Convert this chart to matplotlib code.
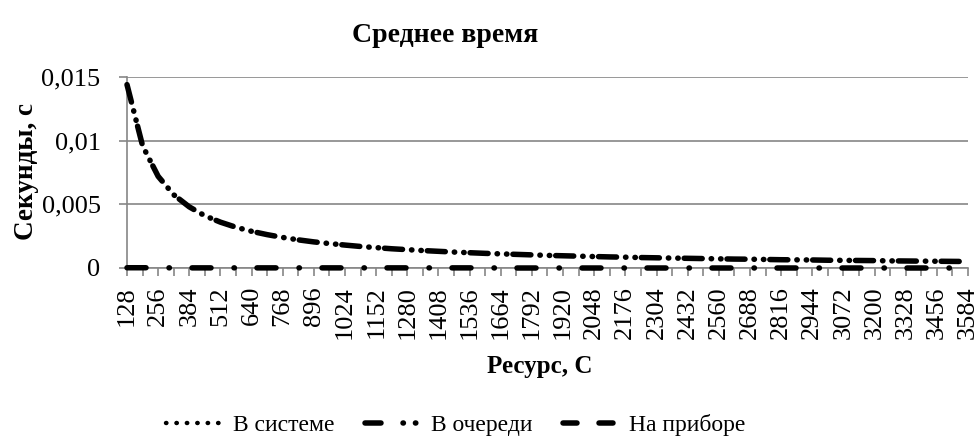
import numpy as np
import matplotlib
matplotlib.use("Agg")
import matplotlib.pyplot as plt
from matplotlib.lines import Line2D

plt.rcParams['font.family'] = ['Liberation Serif', 'DejaVu Serif']
plt.rcParams['lines.scale_dashes'] = False

# categories: resource C, step 64 (labels shown every 128)
resource = np.arange(128, 3585, 64)

# average time in queue, seconds
t_queue = [0.0144, 0.0096, 0.0072, 0.00575, 0.0048, 0.0041, 0.0036, 0.0032,
           0.00288, 0.00262, 0.0024, 0.00221, 0.00205, 0.00192, 0.0018, 0.00169,
           0.0016, 0.00151, 0.00144, 0.00137, 0.00131, 0.00125, 0.0012, 0.00115,
           0.00111, 0.00107, 0.00103, 0.00099, 0.00096, 0.00093, 0.0009, 0.00087,
           0.00085, 0.00082, 0.0008, 0.00078, 0.00076, 0.00074, 0.00072, 0.0007,
           0.00069, 0.00067, 0.00065, 0.00064, 0.00063, 0.00061, 0.0006, 0.00059,
           0.00058, 0.00056, 0.00055, 0.00054, 0.00053, 0.00052, 0.00051]

# time in system and on device (practically zero on this scale)
t_system = [0.00002, 0.00002, 0.00002, 0.00001, 0.00001, 0.00001, 0.00001, 0.00001,
            0.00001, 0.00001, 0.00001, 0.00001, 0.00001, 0.00001, 0.00001, 0.00001,
            0.00001, 0.00001, 0.00001, 0.00001, 0.00001, 0.00001, 0.00001, 0.00001,
            0.0, 0.0, 0.0, 0.0, 0.0, 0.0, 0.0, 0.0,
            0.0, 0.0, 0.0, 0.0, 0.0, 0.0, 0.0, 0.0,
            0.0, 0.0, 0.0, 0.0, 0.0, 0.0, 0.0, 0.0,
            0.0, 0.0, 0.0, 0.0, 0.0, 0.0, 0.0]
t_device = [0.00002, 0.00002, 0.00002, 0.00001, 0.00001, 0.00001, 0.00001, 0.00001,
            0.00001, 0.00001, 0.00001, 0.00001, 0.00001, 0.00001, 0.00001, 0.00001,
            0.00001, 0.00001, 0.00001, 0.00001, 0.00001, 0.00001, 0.00001, 0.00001,
            0.0, 0.0, 0.0, 0.0, 0.0, 0.0, 0.0, 0.0,
            0.0, 0.0, 0.0, 0.0, 0.0, 0.0, 0.0, 0.0,
            0.0, 0.0, 0.0, 0.0, 0.0, 0.0, 0.0, 0.0,
            0.0, 0.0, 0.0, 0.0, 0.0, 0.0, 0.0]

labels = ['В системе', 'В очереди', 'На приборе']
yticks = [0, 0.005, 0.01, 0.015]
yticklabels = ['0', '0,005', '0,01', '0,015']

W, H = 979, 447
fig = plt.figure(figsize=(W / 100, H / 100), dpi=100)
ax = fig.add_axes([127 / W, 1 - 268 / H, (968 - 127) / W, (268 - 77) / H])

x = np.arange(len(resource))
px = 0.72  # pixels -> points at 100 dpi
lw = 5.5 * px

ax.plot(x, t_device, color='black', lw=lw, dash_capstyle='round', clip_on=False,
        linestyle=(0, (19 * px, 46 * px)), zorder=3)
ax.plot(x, t_system, color='black', lw=lw, dash_capstyle='round', clip_on=False,
        linestyle=(23 * px, (0.3, 65 * px - 0.3)), zorder=3)
ax.plot(x, t_queue, color='black', lw=lw, dash_capstyle='round', clip_on=False,
        linestyle=(0, (18 * px, 9 * px, 0.3, 9 * px, 0.3, 6 * px)), zorder=3)

ax.set_xlim(0, len(resource) - 1)
ax.set_ylim(0, 0.015)
ax.set_xticks(x)
ax.set_xticklabels([str(r) if i % 2 == 0 else '' for i, r in enumerate(resource)],
                   rotation=90, fontsize=19)
ax.set_yticks(yticks)
ax.set_yticklabels(yticklabels, fontsize=19)
ax.tick_params(axis='x', length=6, width=1.2, color='#868686', pad=7)
ax.tick_params(axis='y', length=6, width=1.2, color='#868686', pad=13)
ax.yaxis.grid(True, color='#868686', lw=1.2)
ax.set_axisbelow(True)
for s in ['top', 'right']:
    ax.spines[s].set_visible(False)
for s in ['left', 'bottom']:
    ax.spines[s].set_color('#868686')
    ax.spines[s].set_linewidth(1.2)

fig.text(445 / W, 1 - 36 / H, 'Среднее время', ha='center', va='center',
         fontsize=20, fontweight='bold')
fig.text(540 / W, 1 - 366 / H, 'Ресурс, С', ha='center', va='center',
         fontsize=18, fontweight='bold')
fig.text(27 / W, 1 - 172 / H, 'Секунды, с', ha='center', va='center',
         rotation=90, fontsize=19.5, fontweight='bold')

handles = [
    Line2D([], [], color='black', lw=3.2, dash_capstyle='round',
           linestyle=(0, (0.3, 10 * px))),
    Line2D([], [], color='black', lw=lw, dash_capstyle='round',
           linestyle=(0, (16 * px, 22 * px, 0.3, 12 * px, 0.3, 30 * px))),
    Line2D([], [], color='black', lw=lw, dash_capstyle='round',
           linestyle=(0, (14 * px, 22 * px))),
]
fig.legend(handles, labels, loc='center', bbox_to_anchor=(456 / W, 1 - 425 / H),
           ncol=3, frameon=False, fontsize=17, handlelength=2.3, handletextpad=0.5,
           columnspacing=1.3)

fig.savefig('out.png', dpi=100)
